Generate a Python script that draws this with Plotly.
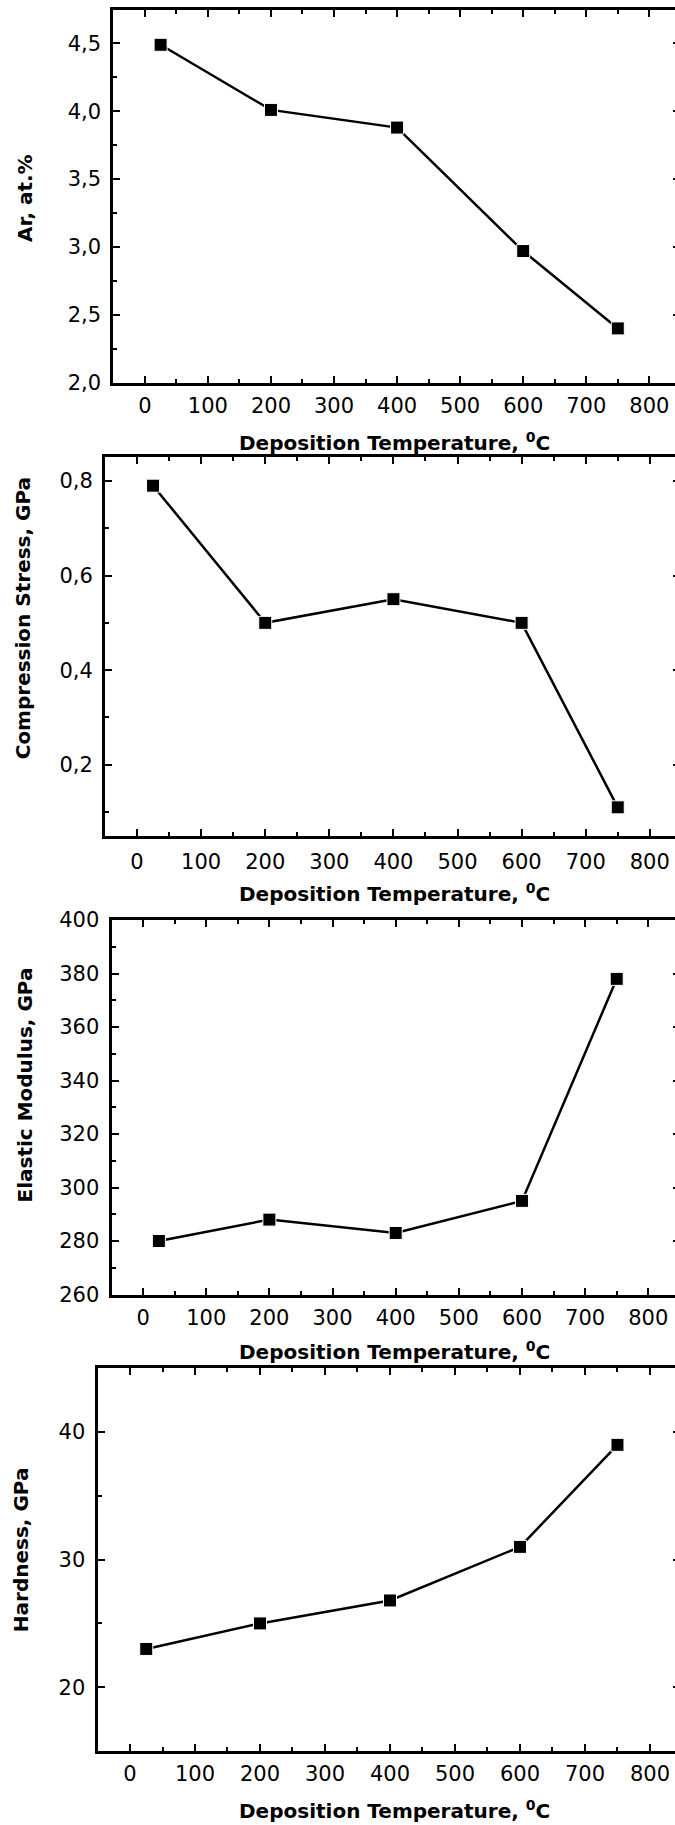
import plotly.graph_objects as go

# Measured film properties versus deposition temperature
temperature = [25, 200, 400, 600, 750]
argon_content = [4.49, 4.01, 3.88, 2.97, 2.40]
compression_stress = [0.79, 0.50, 0.55, 0.50, 0.11]
elastic_modulus = [280, 288, 283, 295, 378]
hardness = [23.0, 25.0, 26.8, 31.0, 39.0]

x_title = "Deposition Temperature, <sup>0</sup>C"
y_titles = ["Ar, at.%", "Compression Stress, GPa", "Elastic Modulus, GPa", "Hardness, GPa"]

W, H = 675, 1825

# Panel geometry in pixels (plot frame) and axis settings
panels = [
    dict(values=argon_content, left=113.3, top=9.5, bottom=382.7, xmax=840.7,
         yrange=[2.0, 4.75], tick0=0, dtick=0.5, minor=0.25, fmt=".1f",
         ytitle=(24.5, 198.5), xtitle_y=441.7, standoff=2),
    dict(values=compression_stress, left=105.0, top=457.3, bottom=835.7, xmax=839.3,
         yrange=[0.05, 0.85], tick0=0, dtick=0.2, minor=0.1, fmt=".1f",
         ytitle=(23.3, 618.0), xtitle_y=893.0, standoff=5),
    dict(values=elastic_modulus, left=111.5, top=920.0, bottom=1294.5, xmax=842.3,
         yrange=[260, 400], tick0=0, dtick=20, minor=10, fmt="d",
         ytitle=(24.5, 1085.0), xtitle_y=1351.0, standoff=2),
    dict(values=hardness, left=97.5, top=1368.3, bottom=1751.0, xmax=838.5,
         yrange=[15, 45], tick0=0, dtick=10, minor=5, fmt="d",
         ytitle=(21.2, 1550.0), xtitle_y=1810.0, standoff=2),
]

tick_font = dict(family="DejaVu Sans", size=21, color="black")
title_font = dict(family="DejaVu Sans", size=20, color="black", weight="bold")
tick_style = dict(ticks="inside", ticklen=7, tickwidth=2, tickcolor="black")

fig = go.Figure()
layout = dict(
    width=W, height=H, autosize=False,
    margin=dict(l=0, r=0, t=0, b=0, pad=0, autoexpand=False),
    paper_bgcolor="white", plot_bgcolor="white",
    showlegend=False,
    separators=", ",
    annotations=[],
)

n = len(panels)
for i, (p, ytitle) in enumerate(zip(panels, y_titles), start=1):
    xref = "x" if i == 1 else f"x{i}"
    yref = "y" if i == 1 else f"y{i}"
    right_ref = f"y{i + n}"
    fig.add_trace(go.Scatter(
        x=temperature, y=p["values"], xaxis=xref, yaxis=yref,
        mode="lines+markers",
        line=dict(color="black", width=2.5),
        marker=dict(symbol="square", size=13, color="black",
                    line=dict(color="white", width=1)),
        cliponaxis=False,
    ))
    # same series on the right-hand axis (drawn invisibly) so its ticks render
    fig.add_trace(go.Scatter(
        x=temperature, y=p["values"], xaxis=xref, yaxis=right_ref,
        mode="none", hoverinfo="skip",
    ))
    layout[f"xaxis{i}"] = dict(
        domain=[p["left"] / W, 1], anchor=yref, automargin=False,
        range=[-50, p["xmax"]], tick0=0, dtick=100, **tick_style,
        minor=dict(dtick=50, ticks="inside", ticklen=4, tickwidth=2, tickcolor="black"),
        showline=True, linewidth=3, linecolor="black", mirror="ticks",
        showgrid=False, zeroline=False,
        tickfont=tick_font, ticklabelstandoff=p["standoff"],
    )
    layout[f"yaxis{i}"] = dict(
        domain=[1 - p["bottom"] / H, 1 - p["top"] / H], anchor=xref, automargin=False,
        range=p["yrange"], tick0=p["tick0"], dtick=p["dtick"], tickformat=p["fmt"],
        **tick_style,
        minor=dict(dtick=p["minor"], ticks="inside", ticklen=4, tickwidth=2, tickcolor="black"),
        showline=True, linewidth=3, linecolor="black", mirror=False,
        showgrid=False, zeroline=False,
        tickfont=tick_font, ticklabelstandoff=5,
    )
    layout[f"yaxis{i + n}"] = dict(
        overlaying=yref, anchor=xref, side="right", automargin=False,
        range=p["yrange"], tick0=p["tick0"], dtick=p["dtick"],
        ticks="inside", ticklen=2, tickwidth=2, tickcolor="black",
        showticklabels=False, showline=False, showgrid=False, zeroline=False,
    )
    layout["annotations"].append(dict(
        text=ytitle, textangle=-90, showarrow=False,
        xref="paper", yref="paper",
        x=p["ytitle"][0] / W, y=1 - p["ytitle"][1] / H,
        xanchor="center", yanchor="middle", font=title_font,
    ))
    layout["annotations"].append(dict(
        text=x_title, showarrow=False,
        xref="paper", yref="paper",
        x=395 / W, y=1 - p["xtitle_y"] / H,
        xanchor="center", yanchor="middle", font=title_font,
    ))

fig.update_layout(**layout)
fig.write_html("out.html")
